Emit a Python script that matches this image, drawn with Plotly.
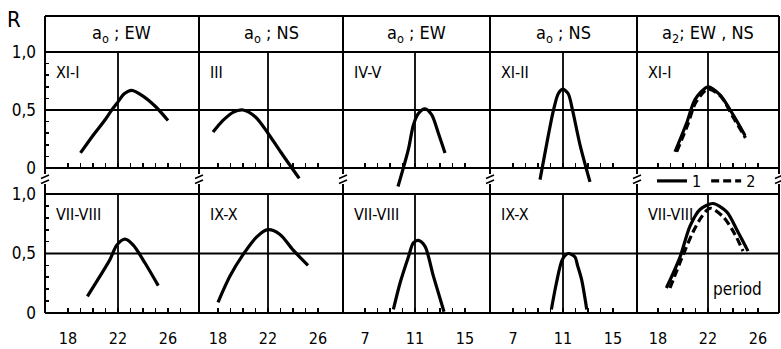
import plotly.graph_objects as go

W, H = 781, 349
FONT = "DejaVu Sans Condensed, Liberation Sans Narrow, DejaVu Sans, sans-serif"

# ---------------- data ----------------
col_titles = ["a<sub>o</sub> ; EW", "a<sub>o</sub> ; NS", "a<sub>o</sub> ; EW",
              "a<sub>o</sub> ; NS", "a<sub>2</sub>; EW , NS"]
top_labels = ["XI-I", "III", "IV-V", "XI-II", "XI-I"]
bottom_labels = ["VII-VIII", "IX-X", "VII-VIII", "IX-X", "VII-VIII"]
col_center_period = [22, 22, 11, 11, 22]
xtick_labels = [[18, 22, 26], [18, 22, 26], [7, 11, 15], [7, 11, 15], [18, 22, 26]]
minor_ticks = [list(range(18, 28)), list(range(18, 27)), list(range(8, 16)),
               list(range(7, 16)), list(range(18, 27))]
r_major = [0, 0.5, 1.0]
r_major_text = ["0", "0,5", "1,0"]
r_minor = [0, 0.1, 0.2, 0.3, 0.4, 0.5, 0.6, 0.7, 0.8, 0.9, 1.0]

# Row 1
xi_i_ew_period = [19.0, 20.0, 21.0, 21.5, 22.0, 22.5, 23.1, 24.0, 25.0, 26.0]
xi_i_ew_R = [0.13, 0.28, 0.42, 0.50, 0.57, 0.64, 0.67, 0.62, 0.53, 0.41]
iii_ns_period = [17.6, 18.4, 19.2, 20.0, 21.0, 22.0, 23.0, 24.5]
iii_ns_R = [0.31, 0.41, 0.48, 0.50, 0.44, 0.30, 0.14, -0.09]
iv_v_ew_period = [9.64, 10.47, 10.87, 11.27, 11.8, 12.33, 12.87, 13.4]
iv_v_ew_R = [-0.16, 0.16, 0.37, 0.47, 0.51, 0.46, 0.30, 0.13]
xi_ii_ns_period = [9.16, 9.7, 10.22, 10.62, 10.98, 11.42, 11.78, 12.36, 13.16]
xi_ii_ns_R = [-0.10, 0.21, 0.49, 0.64, 0.68, 0.64, 0.49, 0.20, -0.12]
a2_xi_i_period_1 = [19.36, 20.3, 20.96, 22.0, 22.96, 24.0, 24.96]
a2_xi_i_R_1 = [0.14, 0.39, 0.59, 0.70, 0.63, 0.46, 0.28]
a2_xi_i_period_2 = [19.5, 20.4, 21.0, 22.0, 23.0, 24.0, 25.0]
a2_xi_i_R_2 = [0.14, 0.38, 0.56, 0.68, 0.62, 0.44, 0.26]

# Row 2
vii_viii_ew_period = [19.55, 20.56, 21.36, 21.9, 22.56, 23.22, 24.16, 25.22]
vii_viii_ew_R = [0.14, 0.31, 0.45, 0.57, 0.62, 0.57, 0.42, 0.23]
ix_x_ns_period = [18.0, 18.96, 20.0, 21.1, 22.0, 22.96, 24.0, 25.2]
ix_x_ns_R = [0.09, 0.31, 0.49, 0.64, 0.70, 0.66, 0.53, 0.40]
vii_viii_ew2_period = [9.27, 9.8, 10.47, 10.87, 11.27, 11.8, 12.47, 13.32]
vii_viii_ew2_R = [0.03, 0.25, 0.47, 0.59, 0.61, 0.56, 0.31, 0.01]
ix_x_ns2_period = [10.07, 10.47, 10.95, 11.42, 11.96, 12.16, 12.49, 12.9]
ix_x_ns2_R = [0.03, 0.25, 0.45, 0.50, 0.47, 0.40, 0.28, 0.03]
a2_vii_viii_period_1 = [18.67, 19.76, 20.56, 21.36, 22.4, 23.5, 24.4, 25.2]
a2_vii_viii_R_1 = [0.21, 0.47, 0.73, 0.87, 0.92, 0.85, 0.68, 0.52]
a2_vii_viii_period_2 = [18.96, 19.9, 20.8, 21.5, 22.16, 23.2, 24.16, 24.8]
a2_vii_viii_R_2 = [0.21, 0.46, 0.68, 0.81, 0.88, 0.81, 0.66, 0.52]

# ---------------- layout geometry (pixels) ----------------
col_left = [45, 199, 343, 490, 637]
col_right = [199, 343, 490, 637, 779]
col_cx = [118, 268, 415, 563, 708]
PX_PER_UNIT = 12.5
rows = [  # zero px, one px, ymin
    dict(zero=168, one=52, ymin=-0.2),
    dict(zero=313, one=194, ymin=-0.05),
]


def px(x):
    return x / W


def py(y):
    return 1 - y / H


fig = go.Figure()
LW = 3.2

curves = {
    (0, 0): [(xi_i_ew_period, xi_i_ew_R, "solid", None)],
    (0, 1): [(iii_ns_period, iii_ns_R, "solid", None)],
    (0, 2): [(iv_v_ew_period, iv_v_ew_R, "solid", None)],
    (0, 3): [(xi_ii_ns_period, xi_ii_ns_R, "solid", None)],
    (0, 4): [(a2_xi_i_period_1, a2_xi_i_R_1, "solid", "1"),
             (a2_xi_i_period_2, a2_xi_i_R_2, "8px,4px", "2")],
    (1, 0): [(vii_viii_ew_period, vii_viii_ew_R, "solid", None)],
    (1, 1): [(ix_x_ns_period, ix_x_ns_R, "solid", None)],
    (1, 2): [(vii_viii_ew2_period, vii_viii_ew2_R, "solid", None)],
    (1, 3): [(ix_x_ns2_period, ix_x_ns2_R, "solid", None)],
    (1, 4): [(a2_vii_viii_period_1, a2_vii_viii_R_1, "solid", None),
             (a2_vii_viii_period_2, a2_vii_viii_R_2, "8px,4px", None)],
}

shapes = []
annotations = []
layout_axes = {}
TICK = dict(ticks="inside", ticklen=4, tickwidth=1.6, tickcolor="black")

for r, rw in enumerate(rows):
    span = rw["zero"] - rw["one"]
    bottom_px = rw["zero"] - rw["ymin"] * span
    for c in range(5):
        k = r * 5 + c + 1
        xs = "" if k == 1 else str(k)
        l, rr, cx = col_left[c], col_right[c], col_cx[c]
        cval = col_center_period[c]
        xr = [cval - (cx - l) / PX_PER_UNIT, cval + (rr - cx) / PX_PER_UNIT]
        layout_axes["xaxis" + xs] = dict(
            domain=[px(l), px(rr)], range=xr, anchor="free", position=py(rw["zero"]),
            showline=True, linewidth=2, linecolor="black", showgrid=False, zeroline=False,
            tickmode="array", tickvals=xtick_labels[c], ticktext=[str(v) for v in xtick_labels[c]],
            showticklabels=(r == 1), **TICK,
            minor=dict(tickmode="array", tickvals=minor_ticks[c], showgrid=False, **TICK),
            tickfont=dict(family=FONT, size=16, color="black"), ticklabelstandoff=11,
            automargin=False, fixedrange=True,
        )
        ycfg = dict(
            domain=[py(bottom_px), py(rw["one"])], range=[rw["ymin"], 1.0],
            anchor="x" + xs, showline=False, showgrid=False, zeroline=False,
            automargin=False, fixedrange=True,
        )
        if c == 0:
            ycfg.update(tickmode="array", tickvals=r_major, ticktext=r_major_text, **TICK,
                        minor=dict(tickmode="array", tickvals=r_minor, showgrid=False, **TICK),
                        tickfont=dict(family=FONT, size=17, color="black"),
                        ticklabelstandoff=8)
        else:
            ycfg.update(showticklabels=False, ticks="")
        layout_axes["yaxis" + xs] = ycfg

        for (xv, yv, dash, name) in curves[(r, c)]:
            fig.add_trace(go.Scatter(
                x=xv, y=yv, xaxis="x" + xs, yaxis="y" + xs, mode="lines",
                line=dict(color="black", width=LW, dash=dash, shape="spline", smoothing=0.8),
                name=name if name else "", showlegend=bool(name), hoverinfo="skip",
            ))

        # grid: centre vertical line and 0.5 horizontal line
        shapes.append(dict(type="line", xref="x" + xs, yref="y" + xs, x0=cval, x1=cval, y0=0, y1=1,
                           line=dict(color="black", width=1.8)))
        shapes.append(dict(type="line", xref="x" + xs + " domain", yref="y" + xs, x0=0, x1=1, y0=0.5, y1=0.5,
                           line=dict(color="black", width=1.8)))
        # panel label
        annotations.append(dict(
            x=px(l + 9), y=py(rw["one"] + 20), xref="paper", yref="paper",
            text=(top_labels if r == 0 else bottom_labels)[c], showarrow=False,
            xanchor="left", yanchor="middle", font=dict(family=FONT, size=16, color="black")))

# frame lines
for yline in [16, 52, 194]:
    shapes.append(dict(type="line", xref="paper", yref="paper", x0=px(45), x1=px(779), y0=py(yline), y1=py(yline),
                       line=dict(color="black", width=2)))
for xv in [45, 199, 343, 490, 637, 779]:
    shapes.append(dict(type="line", xref="paper", yref="paper", x0=px(xv), x1=px(xv), y0=py(16), y1=py(174),
                       line=dict(color="black", width=2)))
    shapes.append(dict(type="line", xref="paper", yref="paper", x0=px(xv), x1=px(xv), y0=py(184), y1=py(313),
                       line=dict(color="black", width=2)))
    for yb in [177, 182]:
        shapes.append(dict(type="line", xref="paper", yref="paper", x0=px(xv - 4), x1=px(xv + 4),
                           y0=py(yb + 1.5), y1=py(yb - 2), line=dict(color="black", width=1.6)))

# column titles
for c in range(5):
    annotations.append(dict(
        x=px((col_left[c] + col_right[c]) / 2), y=py(34), xref="paper", yref="paper",
        text=col_titles[c], showarrow=False, xanchor="center", yanchor="middle",
        font=dict(family=FONT, size=18, color="black")))

annotations.append(dict(x=px(5), y=py(19), xref="paper", yref="paper", text="R", showarrow=False,
                        xanchor="left", yanchor="middle", font=dict(family=FONT, size=22, color="black")))
annotations.append(dict(x=px(711), y=py(289), xref="paper", yref="paper", text="period", showarrow=False,
                        xanchor="left", yanchor="middle", font=dict(family=FONT, size=17, color="black")))

fig.update_layout(
    width=W, height=H, margin=dict(l=0, r=0, t=0, b=0, autoexpand=False),
    paper_bgcolor="white", plot_bgcolor="rgba(0,0,0,0)",
    shapes=shapes, annotations=annotations,
    showlegend=True,
    legend=dict(orientation="h", x=px(652), y=py(181), xanchor="left", yanchor="middle",
                bgcolor="rgba(0,0,0,0)", font=dict(family=FONT, size=16, color="black"),
                itemwidth=30, tracegroupgap=0),
    **layout_axes,
)

fig.write_html("out.html", config={"displayModeBar": False, "staticPlot": True},
               post_script="document.body.style.margin='0';document.body.style.overflow='hidden';")
